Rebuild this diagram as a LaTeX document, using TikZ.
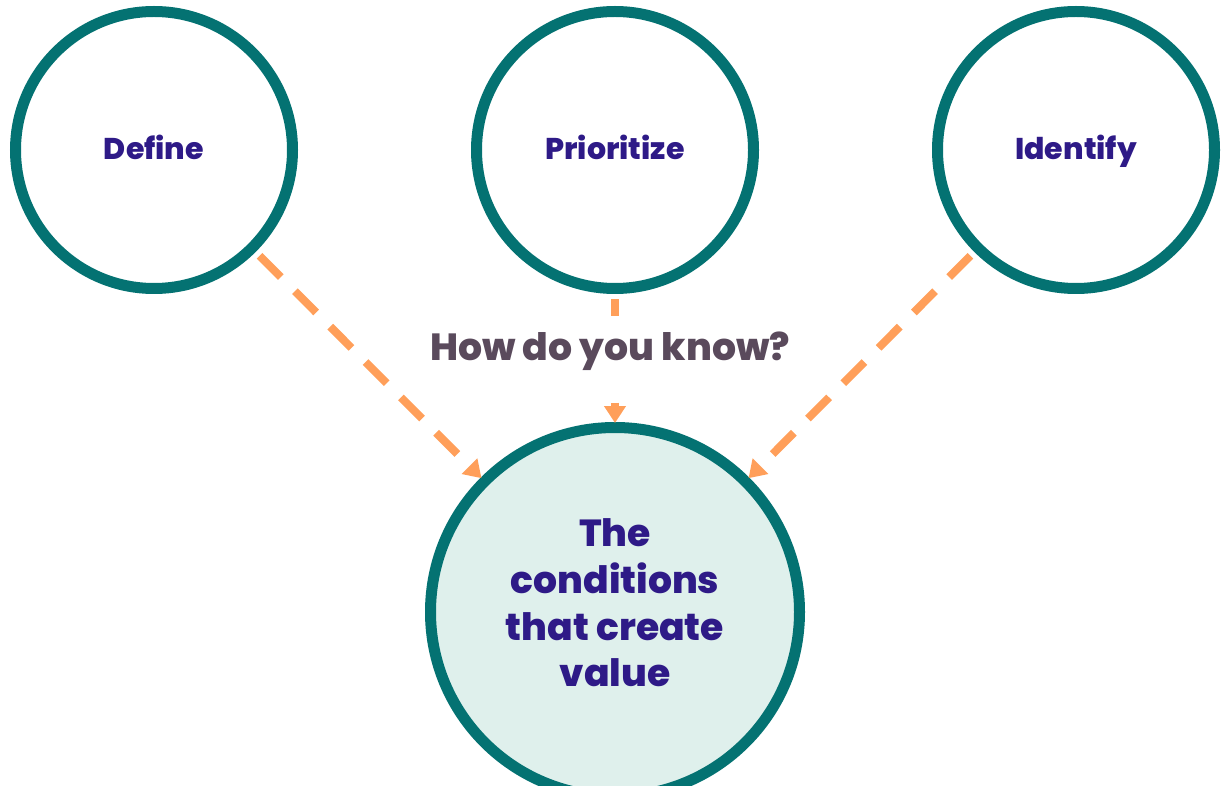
\documentclass[tikz,border=0pt]{standalone}
\usepackage{fontspec}
\setmainfont{Poppins}[BoldFont={Poppins ExtraBold}]
\usetikzlibrary{arrows.meta}
\definecolor{tealc}{HTML}{047272}
\definecolor{purp}{HTML}{2E1A87}
\definecolor{grayp}{HTML}{5A4A5C}
\definecolor{orng}{HTML}{FF9F5A}
\definecolor{mint}{HTML}{DFF0EC}
\tikzset{
  ring/.style={circle, draw=tealc, line width=11pt, inner sep=0pt, minimum size=277pt,
    font=\fontsize{30}{36}\selectfont\bfseries, text=purp, text height=24pt, text depth=4pt},
  bigring/.style={circle, draw=tealc, fill=mint, line width=11pt, inner sep=0pt, minimum size=369pt},
  link/.style={draw=orng, line width=8pt, dash pattern=on 30pt off 20pt,
    -{Triangle[width=21pt,length=17pt]}, shorten >=-1pt, shorten <=5.5pt},
  plainlink/.style={draw=orng, line width=8pt, shorten <=5.5pt},
  bigtext/.style={font=\fontsize{37.7}{46.7}\selectfont\bfseries, text=purp, align=center},
  asktext/.style={font=\fontsize{37.8}{46}\selectfont\bfseries, text=grayp}
}
\begin{document}
\begin{tikzpicture}[x=1pt,y=-1pt]
\useasboundingbox (0,0) rectangle (1221,786);
\clip (0,0) rectangle (1221,786);
\node[ring] (def) at (154,150) {Define};
\node[ring] (pri) at (615,150) {Prioritize};
\node[ring] (ide) at (1076,150) {Identify};
\node[bigring] (bot) at (615,612) {};
\node[bigtext] (bt) at (615,603) {The\\conditions\\that create\\value};
\node[asktext, anchor=base] (ask) at (610,360) {How do you know?};
\coordinate (qa) at (615,316);
\coordinate (qb) at (615,397);
\draw[link] (def) -- (bot);
\draw[link] (ide) -- (bot);
\draw[plainlink] (pri) -- (qa);
\draw[link, solid] (qb) -- (bot);
\end{tikzpicture}
\end{document}
